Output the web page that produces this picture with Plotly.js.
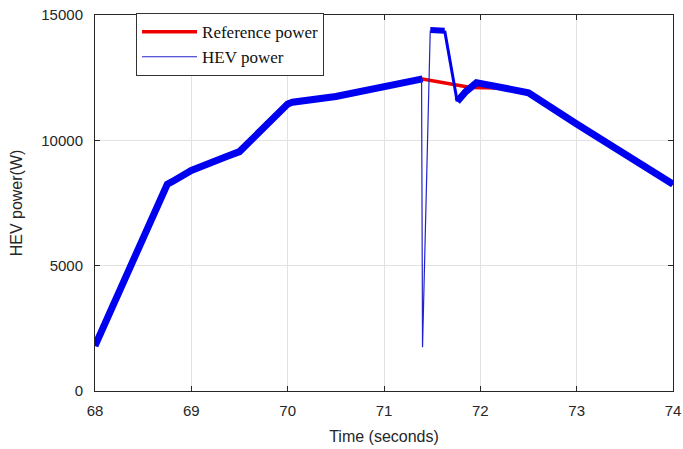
<!DOCTYPE html>
<html>
<head>
<meta charset="utf-8">
<script src="https://cdn.plot.ly/plotly-3.0.1.min.js"></script>
<style>html,body{margin:0;padding:0;background:#fff}#chart{width:683px;height:449px}</style>
</head>
<body>
<div id="chart"></div>
<script>
// Reference power (W) over time (s)
var refTime  = [68.0, 68.75, 69.0, 69.36, 69.5, 70.0, 70.5, 71.0, 71.4, 71.9, 72.2, 72.44, 73.0, 73.5, 74.0];
var refPower = [1800, 8250, 8800, 9350, 9550, 11450, 11750, 12100, 12450, 12110, 12090, 11980, 10650, 9450, 8250];

// HEV power: steady (noisy, thick) part before the transient
var hevPreTime  = [68.0, 68.75, 68.8, 69.0, 69.36, 69.5, 70.0, 70.05, 70.5, 71.0, 71.4];
var hevPrePower = [1800, 8250, 8350, 8800, 9350, 9550, 11450, 11520, 11750, 12100, 12450];
// HEV power: fast transient (thin)
var hevDipTime  = [71.39, 71.40, 71.48];
var hevDipPower = [12450, 1750, 14380];
// HEV power: plateau
var hevPlateauTime  = [71.48, 71.55, 71.63];
var hevPlateauPower = [14400, 14380, 14370];
// HEV power: fall after plateau
var hevFallTime  = [71.63, 71.76];
var hevFallPower = [14370, 11550];
// HEV power: recovery and decline
var hevPostTime  = [71.76, 71.85, 71.96, 72.05, 72.2, 72.44, 72.5, 73.0, 73.5, 74.0];
var hevPostPower = [11550, 11950, 12300, 12230, 12110, 11980, 11900, 10650, 9450, 8250];

var blue = '#0000f0';
var traces = [
  {x: refTime, y: refPower, mode: 'lines', name: 'Reference power',
   line: {color: '#ee0000', width: 3.5}},
  {x: hevPreTime, y: hevPrePower, mode: 'lines', showlegend: false, hoverinfo: 'skip',
   line: {color: blue, width: 7}},
  {x: hevPlateauTime, y: hevPlateauPower, mode: 'lines', showlegend: false, hoverinfo: 'skip',
   line: {color: blue, width: 6}},
  {x: hevFallTime, y: hevFallPower, mode: 'lines', showlegend: false, hoverinfo: 'skip',
   line: {color: blue, width: 3}},
  {x: hevPostTime, y: hevPostPower, mode: 'lines', showlegend: false, hoverinfo: 'skip',
   line: {color: blue, width: 7}},
  {x: hevDipTime, y: hevDipPower, mode: 'lines', name: 'HEV power',
   line: {color: '#2222cc', width: 1.2}}
];

var axisCommon = {
  showline: true, mirror: 'ticks', linecolor: '#262626', linewidth: 1,
  ticks: 'inside', ticklen: 5, tickcolor: '#262626',
  showgrid: true, gridcolor: '#e2e2e2', gridwidth: 1, zeroline: false,
  tickfont: {family: 'Liberation Sans, Arial, sans-serif', size: 15, color: '#262626'}
};

var layout = {
  width: 683, height: 449,
  margin: {l: 95, r: 10, t: 15, b: 58},
  paper_bgcolor: '#fff', plot_bgcolor: '#fff',
  xaxis: Object.assign({}, axisCommon, {
    range: [68, 74], tickvals: [68, 69, 70, 71, 72, 73, 74],
    ticklabelstandoff: 6,
    title: {text: 'Time (seconds)', standoff: 12,
            font: {family: 'Liberation Sans, Arial, sans-serif', size: 16, color: '#262626'}}
  }),
  yaxis: Object.assign({}, axisCommon, {
    range: [0, 15000], tickvals: [0, 5000, 10000, 15000],
    ticktext: ['0', '5000', '10000', '15000'],
    ticklabelstandoff: 8,
    title: {text: 'HEV power(W)', standoff: 14,
            font: {family: 'Liberation Sans, Arial, sans-serif', size: 16, color: '#262626'}}
  }),
  legend: {
    x: 0.071, y: 1.005, xanchor: 'left', yanchor: 'top',
    bgcolor: '#fff', bordercolor: '#333', borderwidth: 1,
    itemwidth: 55, tracegroupgap: 0,
    font: {family: 'Liberation Serif, Times New Roman, serif', size: 17, color: '#111'}
  },
  showlegend: true
};

Plotly.newPlot('chart', traces, layout, {displayModeBar: false, staticPlot: true});
</script>
</body>
</html>
